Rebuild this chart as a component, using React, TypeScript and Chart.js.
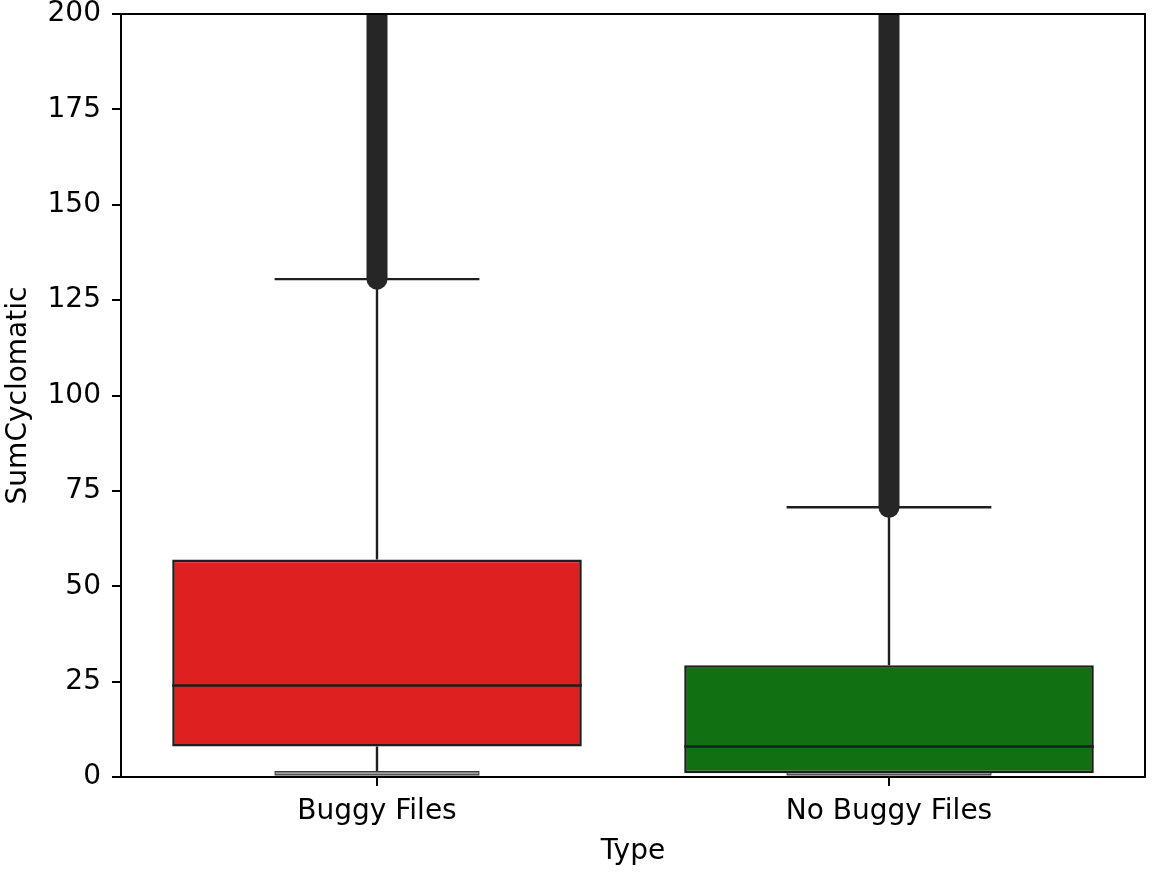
import React, { useEffect, useRef } from "react";
import { Chart, registerables } from "chart.js";

Chart.register(...registerables);

// ---- data ----
const categories = ["Buggy Files", "No Buggy Files"];
const q1Values = [8, 1];
const medianValues = [24, 8];
const q3Values = [57, 29.3];
const whiskerLowValues = [1, 1];
const whiskerHighValues = [130.5, 70.7];
const outlierLowValues = [130.5, 70.7];
const outlierHighValues = [300, 300];
const boxColors = ["#df2020", "#117011"];
const yTickValues = [0, 25, 50, 75, 100, 125, 150, 175, 200];
const yTitle = "SumCyclomatic";
const xTitle = "Type";

const LINE = "#1e1e1e";
const FONT = "'DejaVu Sans', 'Liberation Sans', sans-serif";
const FS = 28;

const boxExtras = {
  id: "boxExtras",
  beforeDatasetsDraw(chart: any) {
    const { ctx, scales } = chart;
    const x = scales.x;
    const y = scales.y;
    const catW = x.getPixelForValue(1) - x.getPixelForValue(0);
    const capHalf = catW * 0.2;
    ctx.save();
    ctx.strokeStyle = LINE;
    ctx.lineWidth = 2.4;
    categories.forEach((_, i) => {
      const cx = x.getPixelForValue(i);
      const yq1 = y.getPixelForValue(q1Values[i]);
      const yq3 = y.getPixelForValue(q3Values[i]);
      const yLo = y.getPixelForValue(whiskerLowValues[i]);
      const yHi = y.getPixelForValue(whiskerHighValues[i]);
      ctx.beginPath();
      ctx.moveTo(cx, yq3);
      ctx.lineTo(cx, yHi);
      ctx.moveTo(cx, yq1);
      ctx.lineTo(cx, yLo);
      ctx.stroke();
      // upper cap
      ctx.beginPath();
      ctx.moveTo(cx - capHalf, yHi);
      ctx.lineTo(cx + capHalf, yHi);
      ctx.stroke();
      // lower cap (appears grey with dark rim)
      ctx.save();
      ctx.lineWidth = 4.5;
      ctx.strokeStyle = "#3a3a3a";
      ctx.beginPath();
      ctx.moveTo(cx - capHalf, yLo);
      ctx.lineTo(cx + capHalf, yLo);
      ctx.stroke();
      ctx.lineWidth = 2;
      ctx.strokeStyle = "#a0a0a0";
      ctx.beginPath();
      ctx.moveTo(cx - capHalf + 1, yLo);
      ctx.lineTo(cx + capHalf - 1, yLo);
      ctx.stroke();
      ctx.restore();
    });
    ctx.restore();
  },
  afterDatasetsDraw(chart: any) {
    const { ctx, scales, chartArea } = chart;
    const x = scales.x;
    const y = scales.y;
    const catW = x.getPixelForValue(1) - x.getPixelForValue(0);
    const boxHalf = catW * 0.4;
    ctx.save();
    // medians
    ctx.strokeStyle = LINE;
    ctx.lineWidth = 2.4;
    categories.forEach((_, i) => {
      const cx = x.getPixelForValue(i);
      const ym = y.getPixelForValue(medianValues[i]);
      ctx.beginPath();
      ctx.moveTo(cx - boxHalf, ym);
      ctx.lineTo(cx + boxHalf, ym);
      ctx.stroke();
    });
    // outlier columns (dense markers)
    ctx.beginPath();
    ctx.rect(chartArea.left, chartArea.top, chartArea.right - chartArea.left, chartArea.bottom - chartArea.top);
    ctx.clip();
    const r = 10.5;
    ctx.fillStyle = "#262626";
    categories.forEach((_, i) => {
      const cx = x.getPixelForValue(i);
      const yLo = y.getPixelForValue(outlierLowValues[i]);
      const yHi = y.getPixelForValue(outlierHighValues[i]);
      ctx.beginPath();
      ctx.rect(cx - r, yHi, 2 * r, yLo - yHi);
      ctx.fill();
      ctx.beginPath();
      ctx.arc(cx, yLo, r, 0, Math.PI * 2);
      ctx.fill();
    });
    ctx.restore();
    // top & right spines
    ctx.save();
    ctx.strokeStyle = "#000";
    ctx.lineWidth = 2;
    ctx.beginPath();
    ctx.moveTo(chartArea.left, chartArea.top);
    ctx.lineTo(chartArea.right, chartArea.top);
    ctx.lineTo(chartArea.right, chartArea.bottom);
    ctx.stroke();
    ctx.restore();
  },
};

export default function App() {
  const canvasRef = useRef<HTMLCanvasElement | null>(null);

  useEffect(() => {
    document.body.style.margin = "0";
    const canvas = canvasRef.current;
    if (!canvas) return;
    const chart = new Chart(canvas, {
      type: "bar",
      data: {
        labels: categories,
        datasets: [
          {
            label: "box",
            data: categories.map((_, i) => [q1Values[i], q3Values[i]] as any),
            backgroundColor: boxColors,
            borderColor: LINE,
            borderWidth: 2.6,
            borderSkipped: false,
            categoryPercentage: 0.8,
            barPercentage: 1,
          },
        ],
      },
      options: {
        responsive: false,
        animation: false,
        events: [],
        layout: { padding: { top: 14, right: 10, left: 0, bottom: 0 } },
        plugins: {
          legend: { display: false },
          tooltip: { enabled: false },
        },
        scales: {
          x: {
            type: "category",
            offset: true,
            grid: {
              display: true,
              offset: false,
              drawOnChartArea: false,
              drawTicks: true,
              tickLength: 9,
              color: "#000",
              lineWidth: 2,
            },
            border: { display: true, color: "#000", width: 2 },
            ticks: {
              color: "#000",
              font: { family: FONT, size: FS },
              padding: 9,
              maxRotation: 0,
            },
            title: {
              display: true,
              text: xTitle,
              color: "#000",
              font: { family: FONT, size: FS },
              padding: { top: 2, bottom: 3 },
            },
            afterFit(scale: any) {
              scale.height = 95;
              scale.paddingLeft = 0;
              scale.paddingRight = 0;
            },
          },
          y: {
            min: 0,
            max: 200,
            afterBuildTicks(scale: any) {
              scale.ticks = yTickValues.map((v) => ({ value: v }));
            },
            grid: {
              display: true,
              drawOnChartArea: false,
              drawTicks: true,
              tickLength: 9,
              color: "#000",
              lineWidth: 2,
            },
            border: { display: true, color: "#000", width: 2 },
            ticks: {
              color: "#000",
              font: { family: FONT, size: FS },
              padding: 11,
            },
            title: {
              display: true,
              text: yTitle,
              color: "#000",
              font: { family: FONT, size: FS },
              padding: { top: 2, bottom: 4 },
            },
            afterFit(scale: any) {
              scale.width = 121;
              scale.paddingTop = 0;
              scale.paddingBottom = 0;
            },
          },
        },
      },
      plugins: [boxExtras],
    });
    return () => chart.destroy();
  }, []);

  return (
    <div style={{ width: 1155, height: 872, background: "#fff" }}>
      <canvas ref={canvasRef} width={1155} height={872} style={{ display: "block" }} />
    </div>
  );
}
